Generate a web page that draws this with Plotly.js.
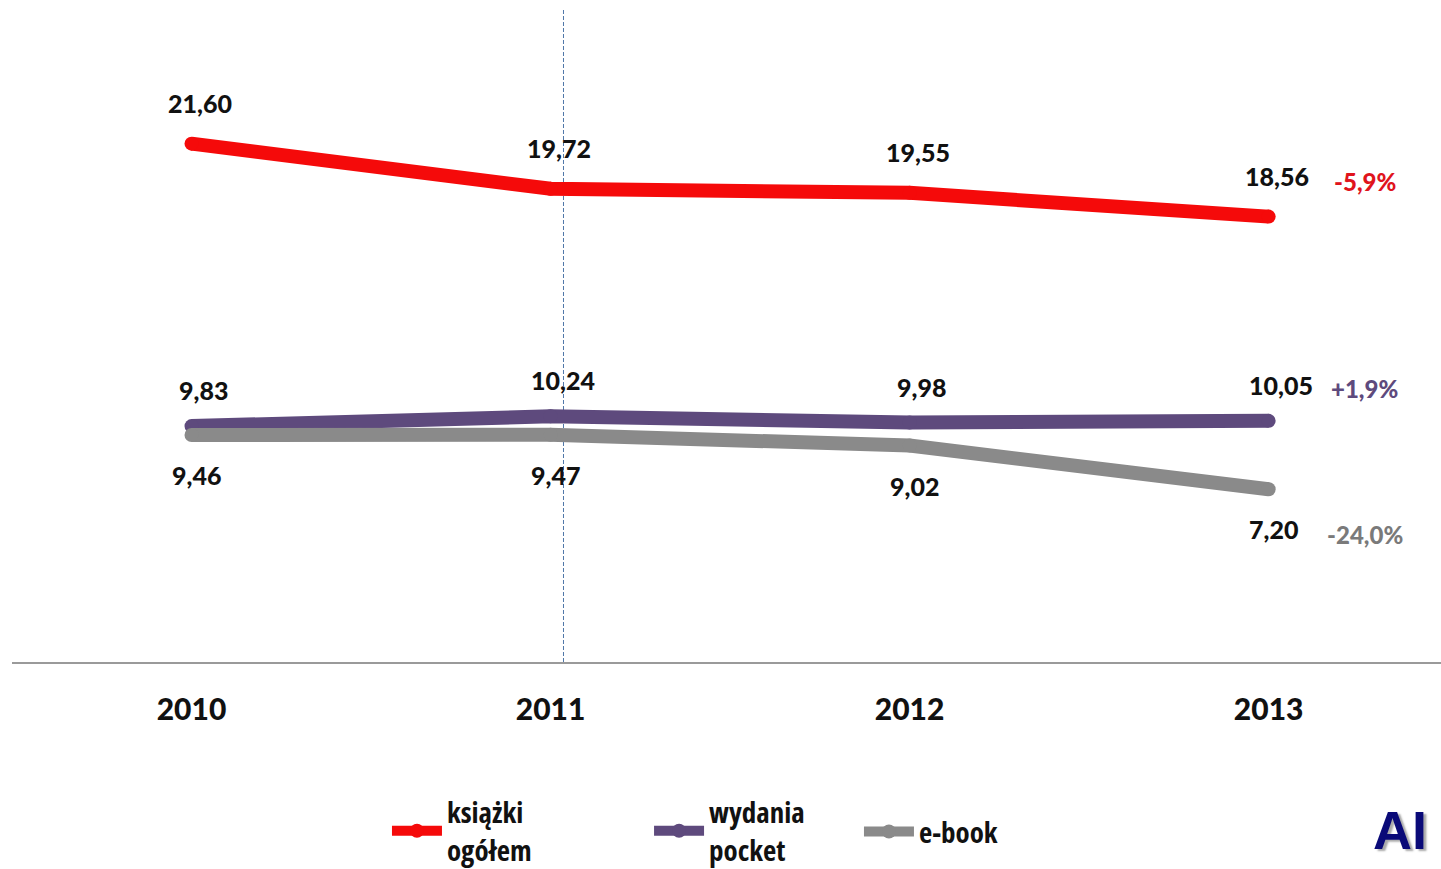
<!DOCTYPE html>
<html>
<head>
<meta charset="utf-8">
<script src="https://cdn.plot.ly/plotly-3.0.1.min.js"></script>
<style>html,body{margin:0;padding:0;background:#fff;}#chart{width:1441px;height:869px;}
.infolayer g[class^="legend"] text, .infolayer g[class^="legend"] tspan{font-stretch:condensed !important;}</style>
</head>
<body>
<div id="chart"></div>
<script>
const years = ['2010', '2011', '2012', '2013'];
const ksiazki = [21.60, 19.72, 19.55, 18.56];
const pocket = [9.83, 10.24, 9.98, 10.05];
const ebook = [9.46, 9.47, 9.02, 7.20];
const seriesNames = ['książki<br>ogółem', 'wydania<br>pocket', 'e-book'];
const changeLabels = ['-5,9%', '+1,9%', '-24,0%'];

const colors = ['#F50A0A', '#5E4A7D', '#8A8A8A'];
const pctColors = ['#E0141C', '#5E4A7D', '#7A7A7A'];
const labelFont = {family: 'Lato, "Open Sans", sans-serif', size: 25, color: '#111', weight: 900};
const fmt = v => v.toFixed(2).replace('.', ',');

const legendIds = ['legend', 'legend2', 'legend3'];
const allSeries = [ksiazki, pocket, ebook];
const traces = allSeries.map((vals, i) => ({
  x: years, y: vals, type: 'scatter', mode: 'lines+markers', name: seriesNames[i],
  line: {color: colors[i], width: 14},
  marker: {color: colors[i], size: 14},
  legend: legendIds[i],
  hoverinfo: 'skip'
}));

const labelShift = [[8, 41], [12, 36], [5, -40]];
const annotations = [];
allSeries.forEach((vals, i) => {
  vals.forEach((v, j) => {
    annotations.push({
      x: j, y: v, xref: 'x', yref: 'y', text: fmt(v),
      showarrow: false, xshift: labelShift[i][0], yshift: labelShift[i][1],
      font: labelFont
    });
  });
});
const pctShift = [35, 32, -45];
changeLabels.forEach((t, i) => {
  annotations.push({
    x: 3, y: allSeries[i][3], xref: 'x', yref: 'y', text: t,
    showarrow: false, xshift: 96, yshift: pctShift[i],
    font: {family: 'Lato, "Open Sans", sans-serif', size: 24, color: pctColors[i], weight: 900}
  });
});
annotations.push({
  xref: 'paper', yref: 'paper', x: 1, y: -0.208, xanchor: 'right', yanchor: 'top', xshift: -12,
  text: '<b>AI</b>', showarrow: false,
  font: {family: '"Liberation Sans", Arial, sans-serif', size: 54, color: '#0A0A78',
         shadow: '3px 2px 2px #aaa'}
});

const legFont = {family: '"Open Sans", "DejaVu Sans", sans-serif', size: 29, color: '#111', weight: 'bold'};
const legBase = {orientation: 'h', xanchor: 'left', yanchor: 'top', font: legFont, itemwidth: 50, valign: 'middle', bgcolor: 'rgba(0,0,0,0)'};

const layout = {
  width: 1441, height: 869,
  margin: {l: 12, r: 0, t: 10, b: 207, autoexpand: false},
  paper_bgcolor: '#fff', plot_bgcolor: '#fff',
  showlegend: true,
  legend: Object.assign({}, legBase, {x: 0.2624, y: -0.191}),
  legend2: Object.assign({}, legBase, {x: 0.4458, y: -0.191}),
  legend3: Object.assign({}, legBase, {x: 0.5927, y: -0.221}),
  xaxis: {
    type: 'category', range: [-0.5, 3.48], showgrid: false, zeroline: false,
    showline: true, linecolor: '#9a9a9a', linewidth: 2,
    ticks: '', ticklabelstandoff: 20,
    tickfont: {family: 'Lato, "Open Sans", sans-serif', size: 30, color: '#111', weight: 900},
    fixedrange: true
  },
  yaxis: {
    range: [0, 27.17], visible: false, showgrid: false, zeroline: false, fixedrange: true
  },
  shapes: [{
    type: 'line', xref: 'x', yref: 'paper', x0: 1.036, x1: 1.036, y0: 0, y1: 1,
    line: {color: '#4F77A8', width: 1, dash: '4px,2px'}, layer: 'below'
  }],
  annotations: annotations
};

function condense() {
  document.querySelectorAll('.infolayer g[class^="legend"] text, .infolayer g[class^="legend"] tspan, text.legendtext').forEach(el => {
    el.style.setProperty('font-stretch', 'condensed', 'important');
  });
}
Plotly.newPlot('chart', traces, layout, {displayModeBar: false, staticPlot: true}).then(() => {
  condense();
  setTimeout(condense, 50);
});
</script>
</body>
</html>
